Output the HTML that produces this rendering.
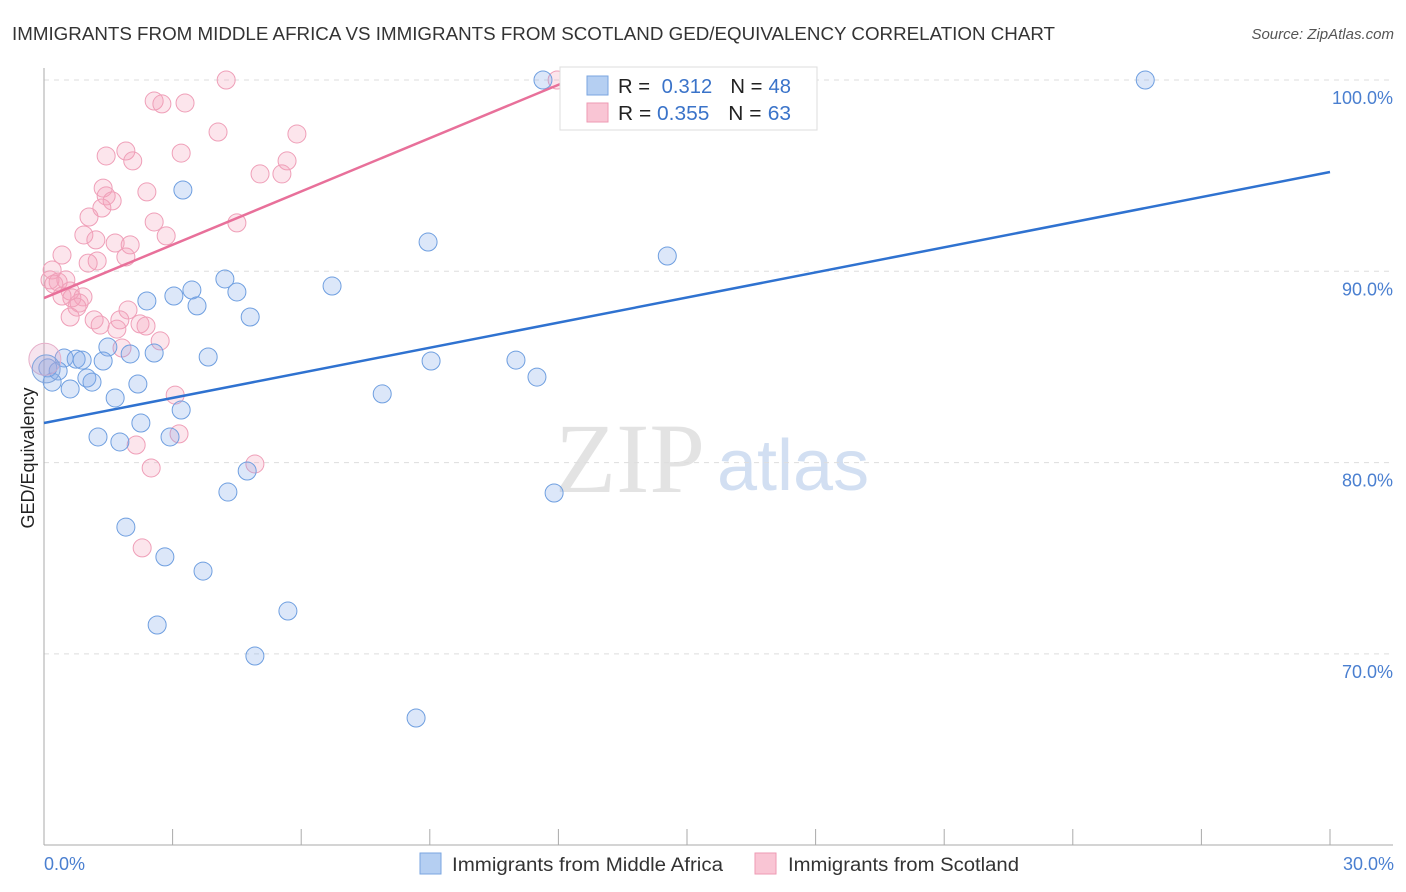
<!DOCTYPE html>
<html><head><meta charset="utf-8">
<style>
body{margin:0;background:#fff;font-family:"Liberation Sans",sans-serif}
#c{position:absolute;left:0;top:0}
</style></head>
<body>
<svg id="c" width="1406" height="892">
<text x="12" y="40" font-size="18" fill="#333" textLength="1043" lengthAdjust="spacingAndGlyphs">IMMIGRANTS FROM MIDDLE AFRICA VS IMMIGRANTS FROM SCOTLAND GED/EQUIVALENCY CORRELATION CHART</text>
<text x="1394" y="39" font-size="15" fill="#555" font-style="italic" text-anchor="end">Source: ZipAtlas.com</text>
<g>
<text x="555" y="492" font-family="Liberation Serif,serif" font-size="100" fill="#ddd" opacity="0.8">ZIP</text>
<text x="717" y="490" font-size="72" fill="#c7d8ef" opacity="0.8">atlas</text>
</g>
<g id="grid"></g>
<g id="axes"></g>
<g id="marks"></g>
<text transform="translate(34,458) rotate(-90)" font-size="18" fill="#222" text-anchor="middle">GED/Equivalency</text>
<text x="44" y="870" font-size="18" fill="#4a7fd0">0.0%</text>
<text x="1394" y="870" font-size="18" fill="#4a7fd0" text-anchor="end">30.0%</text>
<g>
<rect x="560" y="67" width="257" height="63" fill="#fff" stroke="#ddd"/>
<rect x="587" y="76" width="21" height="19" fill="#b5cff2" stroke="#7aa6e0"/>
<rect x="587" y="103" width="21" height="19" fill="#f9c5d4" stroke="#ee9ab3"/>
<text x="618" y="93" font-size="20" fill="#222" textLength="173" lengthAdjust="spacingAndGlyphs">R = <tspan fill="#3a73c9" dx="6">0.312</tspan><tspan dx="18" fill="#222">N =</tspan><tspan dx="6" fill="#3a73c9">48</tspan></text>
<text x="618" y="120" font-size="20" fill="#222" textLength="173" lengthAdjust="spacingAndGlyphs">R = <tspan fill="#3a73c9">0.355</tspan><tspan dx="18" fill="#222">N =</tspan><tspan dx="6" fill="#3a73c9">63</tspan></text>
</g>
<g>
<rect x="420" y="853" width="21" height="21" fill="#b5cff2" stroke="#7aa6e0"/>
<text x="452" y="871" font-size="19" fill="#333" textLength="271" lengthAdjust="spacingAndGlyphs">Immigrants from Middle Africa</text>
<rect x="755" y="853" width="21" height="21" fill="#f9c5d4" stroke="#ee9ab3"/>
<text x="788" y="871" font-size="19" fill="#333" textLength="231" lengthAdjust="spacingAndGlyphs">Immigrants from Scotland</text>
</g>
</svg>
<script>
const blueX=[11.64,25.69,3.24,8.96,14.54,4.22,6.72,3.03,4.50,2.40,3.45,3.57,4.81,1.49,2.01,2.57,3.83,9.03,11.01,0.47,0.75,0.89,1.38,0.09,0.33,11.50,1.00,1.12,2.19,0.19,0.61,7.89,1.66,3.20,2.26,1.26,2.94,1.77,4.74,4.29,11.90,1.91,2.82,3.71,5.69,2.64,4.92,8.68];
const blueY=[100,100,94.25,91.53,90.80,89.60,89.23,88.71,88.92,88.45,89.02,88.19,87.61,86.04,85.68,85.73,85.52,85.31,85.36,85.47,85.41,85.36,85.31,84.95,84.79,84.47,84.42,84.21,84.11,84.21,83.85,83.59,83.38,82.75,82.07,81.34,81.34,81.08,79.56,78.46,78.41,76.63,75.07,74.33,72.24,71.51,69.89,66.65];
const pinkX=[4.25,11.97,2.57,2.75,3.29,4.06,5.90,1.91,3.20,1.45,2.07,5.67,5.04,5.55,2.40,1.38,1.45,1.59,1.35,2.57,4.50,1.05,2.85,0.93,1.21,1.66,2.01,1.91,0.42,1.24,1.03,0.19,0.14,0.33,0.51,0.23,0.61,0.91,0.65,0.82,0.42,0.77,0.61,1.17,1.31,1.96,1.77,2.24,2.38,1.70,2.71,1.82,3.06,3.15,2.15,4.92,2.50,2.29];
const pinkY=[100,100,98.9,98.75,98.8,97.28,97.18,96.29,96.18,96.03,95.77,95.77,95.09,95.09,94.15,94.35,93.94,93.68,93.31,92.58,92.53,92.84,91.85,91.90,91.64,91.48,91.38,90.75,90.85,90.54,90.43,90.07,89.55,89.44,89.55,89.33,88.97,88.66,88.61,88.34,88.71,88.13,87.61,87.46,87.19,87.98,87.46,87.25,87.14,86.98,86.36,85.99,83.53,81.50,80.92,79.93,79.72,75.54];
const bigBlue=[0.05,84.9];
const bigPink=[0.02,85.4];
const blueTrendX=[0,30], blueTrendY=[82.07,95.19];
const pinkTrendX=[0,12.27], pinkTrendY=[88.6,100];
const yTicks=[100,90,80,70];
const yTickLabels=["100.0%","90.0%","80.0%","70.0%"];
const xTicks=[0,3,6,9,12,15,18,21,24,27,30];

const NS="http://www.w3.org/2000/svg";
const sx=v=>44+v/30*1286;
const sy=v=>80+(100-v)*19.13;
function mk(tag,parent,attrs){const e=document.createElementNS(NS,tag);for(const k in attrs)e.setAttribute(k,attrs[k]);document.getElementById(parent).appendChild(e);return e;}

yTicks.forEach((t,i)=>{
  const g=mk('line','grid',{x1:44,x2:1393,y1:sy(t),y2:sy(t),stroke:'#ddd','stroke-dasharray':'5,5'});
  
  
  const l=mk('text','grid',{x:1393,y:sy(t)+24,'font-size':18,fill:'#4a7fd0','text-anchor':'end'});
  l.textContent=yTickLabels[i];
  
  
});
let a=mk('line','axes',{x1:44,x2:44,y1:68,y2:845,stroke:'#aaa'});


a=mk('line','axes',{x1:44,x2:1393,y1:845,y2:845,stroke:'#aaa'});


xTicks.forEach(t=>{
  const e=mk('line','axes',{x1:sx(t),x2:sx(t),y1:829,y2:845,stroke:'#aaa'});
  
  
});
function dots(X,Y,fill,stroke,name){
  X.forEach((x,i)=>{
    const c=mk('circle','marks',{cx:sx(x),cy:sy(Y[i]),r:9,fill:fill,stroke:stroke,'stroke-width':1});
    
    
  });
}
dots(pinkX,pinkY,'rgba(245,160,185,0.28)','#ef9fb8','scotland-point');
dots(blueX,blueY,'rgba(130,170,235,0.28)','#6f9fe0','middle-africa-point');
let b=mk('circle','marks',{cx:sx(bigPink[0]),cy:sy(bigPink[1]),r:16,fill:'rgba(225,165,200,0.3)',stroke:'#e6afc9'});


b=mk('circle','marks',{cx:sx(bigBlue[0]),cy:sy(bigBlue[1]),r:14,fill:'rgba(130,165,225,0.3)',stroke:'#80a5dd'});


let t=mk('line','marks',{x1:sx(blueTrendX[0]),y1:sy(blueTrendY[0]),x2:sx(blueTrendX[1]),y2:sy(blueTrendY[1]),stroke:'#2f72d0','stroke-width':2.5});


t=mk('line','marks',{x1:sx(pinkTrendX[0]),y1:sy(pinkTrendY[0]),x2:sx(pinkTrendX[1]),y2:sy(pinkTrendY[1]),stroke:'#e8709a','stroke-width':2.5});


</script>
</body></html>
